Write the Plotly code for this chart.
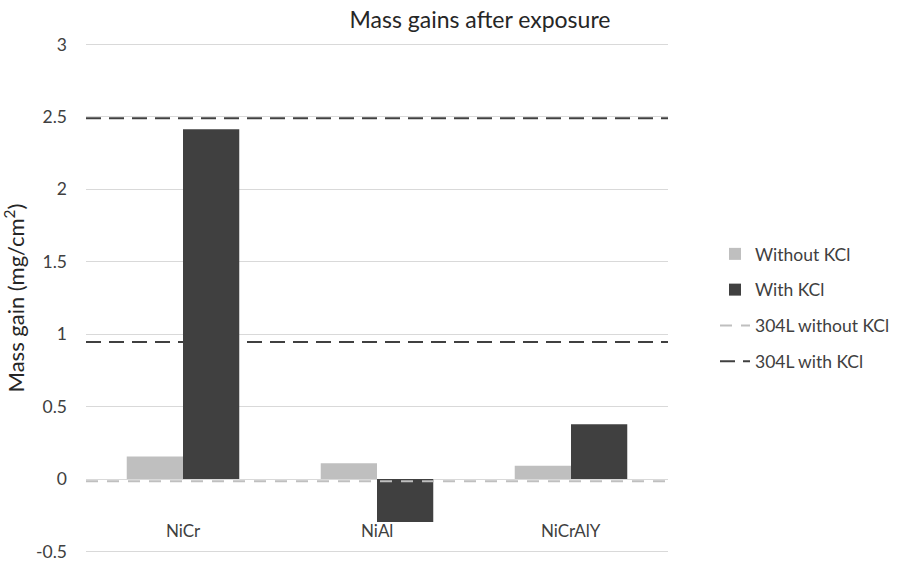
import plotly.graph_objects as go

categories = ["NiCr", "NiAl", "NiCrAlY"]
without_kcl = [0.156, 0.11, 0.092]
with_kcl = [2.414, -0.296, 0.378]
ref_without_kcl = -0.015
ref_with_kcl = [2.49, 0.947]
y_ticks = [-0.5, 0, 0.5, 1, 1.5, 2, 2.5, 3]
y_tick_text = ["-0.5", "0", "0.5", "1", "1.5", "2", "2.5", "3"]

FONT = "Lato"
LIGHT = "#BFBFBF"
DARK = "#404040"

fig = go.Figure()
fig.add_trace(go.Bar(x=categories, y=without_kcl, name="Without KCl",
                     marker=dict(color=LIGHT, line=dict(width=0)),
                     legendgroup="a"))
fig.add_trace(go.Bar(x=categories, y=with_kcl, name="With KCl",
                     marker=dict(color=DARK, line=dict(width=0)),
                     legendgroup="b"))
fig.add_trace(go.Scatter(x=[0, 1], y=[ref_without_kcl] * 2, xaxis="x2",
                         mode="lines", name="304L without KCl",
                         line=dict(color=LIGHT, width=2, dash="12px,9px"),
                         legendgroup="c"))
for i, v in enumerate(ref_with_kcl):
    fig.add_trace(go.Scatter(x=[0, 1], y=[v, v], xaxis="x2", mode="lines",
                             name="304L with KCl", showlegend=(i == 0),
                             line=dict(color=DARK, width=2, dash="15px,8px"),
                             legendgroup="d"))

for c in categories:
    fig.add_annotation(x=c, y=-0.357, xref="x", yref="y", text=c,
                       showarrow=False, font=dict(family=FONT, size=17, color="#404040"))

fig.update_layout(
    width=899, height=562,
    margin=dict(l=86, r=231, t=42.5, b=8.5, autoexpand=False),
    paper_bgcolor="white", plot_bgcolor="white",
    font=dict(family=FONT, size=17, color="#404040"),
    title=dict(text="Mass gains after exposure", x=480 / 899, xref="container",
               xanchor="center", y=1 - 20 / 562, yref="container", yanchor="middle",
               font=dict(family=FONT, size=23, color="#262626")),
    bargap=0.42, bargroupgap=0, barmode="group",
    showlegend=True,
    legend=dict(x=715 / 899, xref="container", y=1 - 236 / 562, yref="container",
                xanchor="left", yanchor="top", tracegroupgap=10,
                font=dict(family=FONT, size=17.5, color="#404040"),
                bgcolor="rgba(0,0,0,0)"),
    xaxis=dict(showticklabels=False, showgrid=False, zeroline=False, showline=False,
               ticks=""),
    xaxis2=dict(overlaying="x", range=[0, 1], visible=False),
    yaxis=dict(range=[-0.51, 3.01], tickvals=y_ticks, ticktext=y_tick_text,
               showgrid=True, gridcolor="#D9D9D9", gridwidth=1.3,
               zeroline=True, zerolinecolor="#D9D9D9", zerolinewidth=1.3,
               showline=False, ticks="", ticklabelstandoff=18,
               ticklabeloverflow="allow",
               tickfont=dict(family=FONT, size=17.5, color="#404040"),
               title=dict(text="Mass gain (mg/cm<sup>2</sup>)", standoff=18,
                          font=dict(family=FONT, size=22, color="#262626"))),
)

fig.write_html("out.html", config={"displayModeBar": False},
               post_script="document.body.style.margin='0';document.body.style.padding='0';")
